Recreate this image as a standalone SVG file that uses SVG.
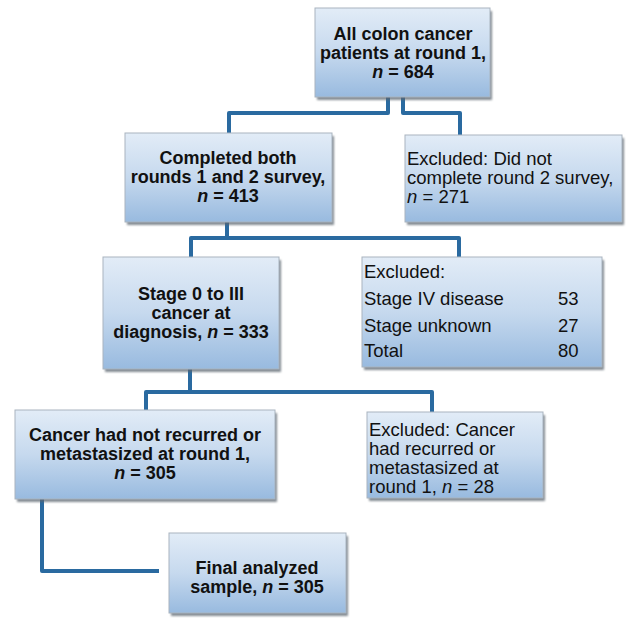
<svg xmlns="http://www.w3.org/2000/svg" width="627" height="619" viewBox="0 0 627 619">
<defs>
<linearGradient id="g" x1="0" y1="0" x2="0" y2="1">
<stop offset="0" stop-color="#e2ecf7"/>
<stop offset="0.5" stop-color="#c6d9ee"/>
<stop offset="1" stop-color="#98badf"/>
</linearGradient>
<filter id="sh" x="-5%" y="-5%" width="115%" height="120%">
<feGaussianBlur stdDeviation="1"/>
</filter>
</defs>
<style>
.box{fill:url(#g);stroke:#a9b4bf;stroke-width:1}
.shadow{fill:#5c6670;opacity:0.75;filter:url(#sh)}
.b{font-family:"Liberation Sans",Arial,sans-serif;font-size:18px;font-weight:bold;fill:#111;text-anchor:middle}
.r{font-family:"Liberation Sans",Arial,sans-serif;font-size:18.5px;fill:#111}
.conn{fill:none;stroke:#2a6aa0;stroke-width:4;stroke-linejoin:round;stroke-linecap:butt}
</style>
<rect width="627" height="619" fill="#ffffff"/>
<g id="connectors">
<path class="conn" d="M388,97 V113 H229 V133"/>
<path class="conn" d="M403,97 V113 H460 V135"/>
<path class="conn" d="M227,222 V238"/>
<path class="conn" d="M191,257 V238 H459 V257"/>
<path class="conn" d="M190,369 V392"/>
<path class="conn" d="M146,410 V392 H432 V412"/>
<path class="conn" d="M42,499 V571 H159"/>
</g>
<g id="n1">
<rect class="shadow" x="317" y="11" width="175" height="89"/>
<rect class="box" x="315" y="8" width="175" height="89"/>
<text class="b" x="403" y="40">All colon cancer</text>
<text class="b" x="403" y="59">patients at round 1,</text>
<text class="b" x="403" y="78"><tspan font-style="italic">n</tspan> = 684</text>
</g>
<g id="n2">
<rect class="shadow" x="127" y="136" width="207" height="89"/>
<rect class="box" x="125" y="133" width="207" height="89"/>
<text class="b" x="228" y="164">Completed both</text>
<text class="b" x="228" y="183">rounds 1 and 2 survey,</text>
<text class="b" x="228" y="202"><tspan font-style="italic">n</tspan> = 413</text>
</g>
<g id="n2x">
<rect class="shadow" x="407" y="138" width="217" height="87"/>
<rect class="box" x="405" y="135" width="217" height="87"/>
<text class="r" x="407" y="165">Excluded: Did not</text>
<text class="r" x="407" y="184">complete round 2 survey,</text>
<text class="r" x="407" y="203"><tspan font-style="italic">n</tspan> = 271</text>
</g>
<g id="n3">
<rect class="shadow" x="105" y="260" width="176" height="112"/>
<rect class="box" x="103" y="257" width="176" height="112"/>
<text class="b" x="191" y="300">Stage 0 to III</text>
<text class="b" x="191" y="319">cancer at</text>
<text class="b" x="191" y="338">diagnosis, <tspan font-style="italic">n</tspan> = 333</text>
</g>
<g id="n3x">
<rect class="shadow" x="364" y="260" width="240" height="110"/>
<rect class="box" x="362" y="257" width="240" height="110"/>
<text class="r" x="364" y="278">Excluded:</text>
<text class="r" x="364" y="305">Stage IV disease</text>
<text class="r" x="558" y="305">53</text>
<text class="r" x="364" y="332">Stage unknown</text>
<text class="r" x="558" y="332">27</text>
<text class="r" x="364" y="357">Total</text>
<text class="r" x="558" y="357">80</text>
</g>
<g id="n4">
<rect class="shadow" x="17" y="413" width="260" height="89"/>
<rect class="box" x="15" y="410" width="260" height="89"/>
<text class="b" x="145" y="441">Cancer had not recurred or</text>
<text class="b" x="145" y="460">metastasized at round 1,</text>
<text class="b" x="145" y="479"><tspan font-style="italic">n</tspan> = 305</text>
</g>
<g id="n4x">
<rect class="shadow" x="369" y="415" width="176" height="86"/>
<rect class="box" x="367" y="412" width="176" height="86"/>
<text class="r" x="369" y="436">Excluded: Cancer</text>
<text class="r" x="369" y="455">had recurred or</text>
<text class="r" x="369" y="474">metastasized at</text>
<text class="r" x="369" y="493">round 1, <tspan font-style="italic">n</tspan> = 28</text>
</g>
<g id="n5">
<rect class="shadow" x="171" y="536" width="177" height="80"/>
<rect class="box" x="169" y="533" width="177" height="80"/>
<text class="b" x="257" y="574">Final analyzed</text>
<text class="b" x="257" y="593">sample, <tspan font-style="italic">n</tspan> = 305</text>
</g>
</svg>
